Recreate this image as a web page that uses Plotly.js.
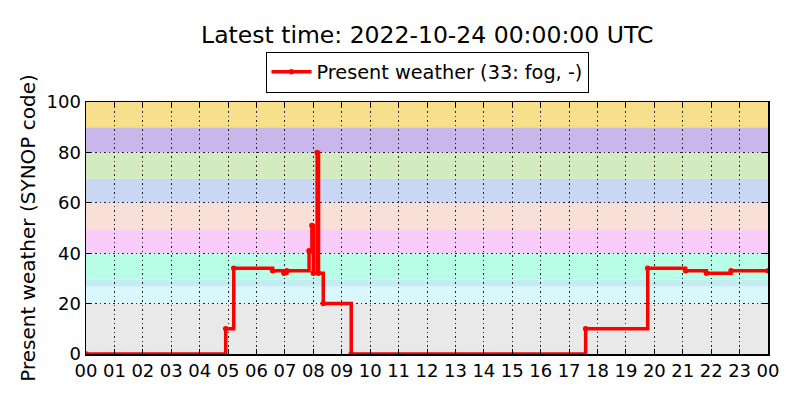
<!DOCTYPE html>
<html>
<head>
<meta charset="utf-8">
<script src="https://cdn.plot.ly/plotly-3.0.1.min.js"></script>
<style>
  body { margin: 0; background: #fff; }
  #chart { width: 800px; height: 400px; }
</style>
</head>
<body>
<div id="chart"></div>
<script>
// observation times (UTC, day of 2022-10-23) and present weather codes, change points only
var obsTimes = [
  '2022-10-23 00:00', '2022-10-23 04:55', '2022-10-23 05:12', '2022-10-23 06:34',
  '2022-10-23 06:58', '2022-10-23 07:04', '2022-10-23 07:51', '2022-10-23 07:57',
  '2022-10-23 08:00', '2022-10-23 08:08', '2022-10-23 08:11', '2022-10-23 08:21',
  '2022-10-23 09:20', '2022-10-23 17:35', '2022-10-23 19:46', '2022-10-23 21:06',
  '2022-10-23 21:50', '2022-10-23 22:42', '2022-10-24 00:00'
];
var wwCodes = [0, 10, 34, 33, 32, 33, 41, 51, 32, 80, 32, 20, 0, 10, 34, 33, 32, 33, 33];

// background bands of SYNOP code groups
var bandLow  = [0, 20, 26.7, 29.5, 40, 49.5, 60, 69.5, 80, 90];
var bandHigh = [20, 26.7, 29.5, 40, 49.5, 60, 69.5, 80, 90, 100];
var bandColors = ['#e9e9e9', '#d8f8fd', '#c5ecf3', '#b8fee6', '#f9ccf9',
                  '#f8dfd7', '#c9d6f4', '#d3ebbf', '#c9b7ec', '#f7df8b'];

var yTicks = [0, 20, 40, 60, 80, 100];
var seriesName = 'Present weather (33: fog, -)';
var titleText = 'Latest time: 2022-10-24 00:00:00 UTC';

var shapes = bandLow.map(function (lo, i) {
  return {
    type: 'rect', xref: 'paper', yref: 'y', x0: 0, x1: 1, y0: lo, y1: bandHigh[i],
    fillcolor: bandColors[i], line: {width: 0}, layer: 'below'
  };
});

var trace = {
  x: obsTimes,
  y: wwCodes,
  name: seriesName,
  mode: 'lines+markers',
  line: {color: '#ff0000', width: 3.5, shape: 'hv'},
  marker: {color: '#ff0000', size: 5.5},
  showlegend: true
};

var font = {family: 'DejaVu Sans', size: 18, color: '#000'};

var layout = {
  width: 800, height: 400,
  margin: {l: 86, r: 32, t: 102, b: 46},
  paper_bgcolor: '#fff',
  plot_bgcolor: 'rgba(0,0,0,0)',
  font: font,
  title: {text: titleText, font: {family: 'DejaVu Sans', size: 23.5, color: '#000'},
          x: 0.534, xanchor: 'center', y: 0.912, yanchor: 'middle'},
  showlegend: true,
  legend: {
    x: 0.5, xanchor: 'center', y: 1.037, yanchor: 'bottom',
    orientation: 'h', itemwidth: 40,
    bordercolor: '#000', borderwidth: 1, bgcolor: '#fff',
    font: {family: 'DejaVu Sans', size: 19.3, color: '#000'}
  },
  xaxis: {
    type: 'date',
    range: ['2022-10-23 00:00', '2022-10-24 00:00'],
    dtick: 3600000, tick0: '2022-10-23 00:00', tickformat: '%H',
    ticks: 'inside', ticklen: 5, tickcolor: '#000',
    showline: true, linecolor: '#000', linewidth: 1.5, mirror: 'ticks',
    showgrid: true, gridcolor: '#222', gridwidth: 1, griddash: '1.5px,3px',
    zeroline: false, tickfont: font
  },
  yaxis: {
    range: [0, 100],
    tickvals: yTicks,
    ticks: 'inside', ticklen: 5, tickcolor: '#000',
    showline: true, linecolor: '#000', linewidth: 1.5, mirror: 'ticks',
    showgrid: true, gridcolor: '#222', gridwidth: 1, griddash: '1.5px,3px',
    zeroline: false, tickfont: font,
    title: {text: 'Present weather (SYNOP code)',
            font: {family: 'DejaVu Sans', size: 20, color: '#000'}, standoff: 5}
  },
  shapes: shapes
};

Plotly.newPlot('chart', [trace], layout, {displayModeBar: false, staticPlot: true});
</script>
</body>
</html>
